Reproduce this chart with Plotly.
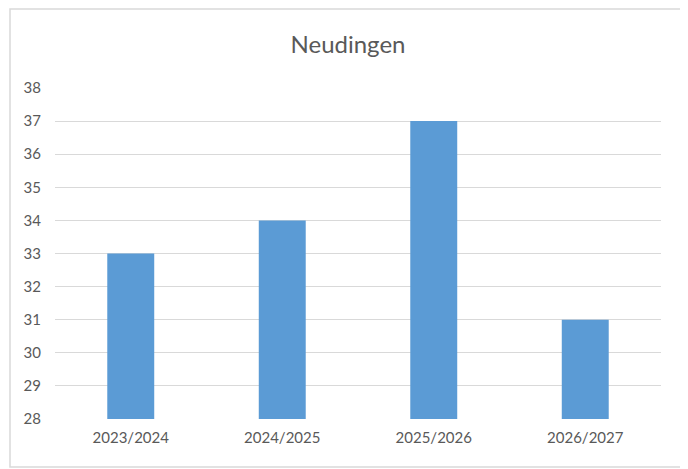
import plotly.graph_objects as go

categories = ["2023/2024", "2024/2025", "2025/2026", "2026/2027"]
values = [33, 34, 37, 31]
y_ticks = list(range(28, 39))

# page body has an 8px margin, so the figure is shrunk and shifted accordingly
OFF = 8
W, H = 688 - OFF, 469 - OFF
L, R, T, B = 55 - OFF, 27, 88 - OFF, 50
pw, ph = W - L - R, H - T - B

fig = go.Figure(go.Bar(x=categories, y=values, marker_color="#5B9BD5",
                       marker_line_width=0, width=0.31))

fig.update_layout(
    width=W, height=H,
    margin=dict(l=L, r=R, t=T, b=B),
    paper_bgcolor="white", plot_bgcolor="white",
    font=dict(family="Lato, Carlito, Open Sans, sans-serif", color="#595959", size=15),
    title=dict(text="Neudingen", x=0.5, xanchor="center", y=1 - (45 - OFF) / H, yanchor="middle",
               font=dict(size=24, color="#595959")),
    showlegend=False,
)
fig.update_yaxes(range=[28, 38], tickvals=y_ticks, showgrid=True, gridcolor="#D9D9D9",
                 gridwidth=1, zeroline=False, showline=False, ticklabelstandoff=13)
fig.update_xaxes(showgrid=False, showline=False, ticklabelstandoff=8)

fig.add_shape(type="rect", xref="paper", yref="paper",
              x0=(10 - 55) / pw, x1=(682 - 55) / pw,
              y0=-(467 - 419) / ph, y1=(419 - 9) / ph,
              line=dict(color="#D9D9D9", width=1.5), fillcolor="rgba(0,0,0,0)", layer="below")

fig.write_html("out.html")
